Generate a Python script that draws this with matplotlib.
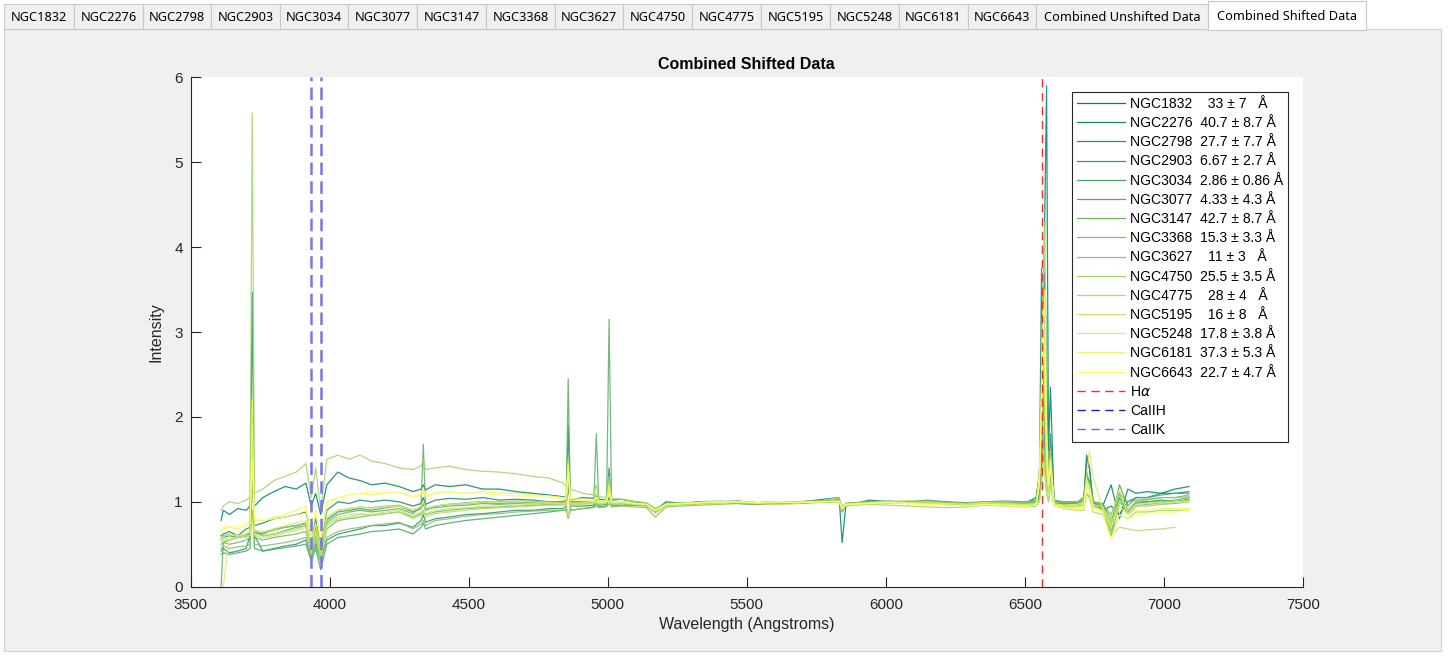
import numpy as np
import matplotlib
matplotlib.use("Agg")
import matplotlib.pyplot as plt
from matplotlib.patches import Rectangle
from matplotlib.lines import Line2D

plt.rcParams['font.family'] = ['Liberation Sans', 'DejaVu Sans']

nan = float('nan')

# ---------------- data ----------------
wavelength = [
    3610, 3618, 3640, 3670, 3700, 3714, 3722, 3730, 3760, 3800, 3840,
    3880, 3915, 3934, 3950, 3968, 3990, 4030, 4070, 4110, 4150,
    4200, 4250, 4300, 4329, 4337, 4345, 4380, 4430, 4490, 4550,
    4610, 4670, 4730, 4790, 4840, 4851, 4858, 4866, 4910, 4950,
    4959, 4968, 4996, 5005, 5014, 5050, 5100, 5140, 5171, 5210,
    5270, 5330, 5400, 5470, 5540, 5610, 5680, 5750, 5832, 5843,
    5856, 5940, 6010, 6080, 6150, 6220, 6290, 6360, 6430, 6500,
    6540, 6552, 6560, 6566, 6572, 6578, 6585, 6592, 6605, 6640,
    6690, 6712, 6722, 6732, 6745, 6780, 6810, 6840, 6870, 6900,
    6940, 6990, 7040, 7090,
]

ngc1832 = [
    0.78, 0.90, 0.85, 0.92, 0.90, 0.95, 1.25, 0.95, 1.05, 1.12, 1.18,
    1.15, 1.22, 0.95, 1.10, 0.85, 1.20, 1.35, 1.28, 1.25, 1.20,
    1.22, 1.18, 1.12, 1.15, 1.20, 1.14, 1.20, 1.18, 1.20, 1.15,
    1.15, 1.12, 1.10, 1.08, 1.06, 1.05, 1.15, 1.02, 1.05, 1.04,
    1.08, 1.03, 1.02, 1.15, 1.02, 1.03, 1.00, 0.98, 0.90, 1.00,
    0.98, 1.00, 1.00, 0.98, 0.97, 1.00, 0.99, 1.02, 1.05, 0.52,
    0.95, 1.02, 1.00, 0.98, 1.00, 0.97, 0.95, 1.00, 0.96, 0.98,
    1.05, 1.30, 2.00, 3.20, 4.50, 5.90, 1.60, 2.35, 1.00, 0.98,
    1.00, 1.05, 1.55, 1.40, 1.00, 0.95, 1.20, 0.80, 1.15, 1.10,
    1.12, 1.10, 1.15, 1.18,
]
ngc2276 = [
    0.60, 0.62, 0.65, 0.60, 0.68, 0.70, 1.60, 0.72, 0.75, 0.80, 0.82,
    0.85, 0.88, 0.60, 0.80, 0.50, 0.90, 1.00, 0.98, 1.02, 1.00,
    1.02, 1.00, 0.95, 0.98, 1.05, 0.97, 1.02, 1.04, 1.03, 1.05,
    1.02, 1.03, 1.02, 1.00, 1.00, 1.02, 1.50, 1.00, 1.00, 1.00,
    1.08, 1.00, 1.00, 1.20, 0.99, 1.00, 0.98, 0.97, 0.90, 0.98,
    0.97, 1.00, 1.00, 1.01, 0.98, 1.00, 0.98, 1.00, 1.02, 0.90,
    0.98, 1.00, 0.99, 1.00, 0.98, 1.00, 0.96, 1.00, 0.98, 0.99,
    1.00, 1.20, 3.75, 2.50, 1.60, 1.50, 1.20, 1.40, 1.00, 1.00,
    1.00, 1.00, 1.35, 1.20, 1.00, 0.90, 0.95, 0.85, 1.00, 1.05,
    1.05, 1.10, 1.10, 1.12,
]
ngc2798 = [
    0.42, 0.45, 0.40, 0.42, 0.45, 0.60, 3.47, 0.60, 0.42, 0.45, 0.48,
    0.50, 0.55, 0.35, 0.50, 0.30, 0.55, 0.62, 0.65, 0.68, 0.72,
    0.72, 0.75, 0.70, 0.78, 0.85, 0.76, 0.80, 0.82, 0.85, 0.86,
    0.88, 0.90, 0.90, 0.92, 0.92, 0.95, 1.90, 0.95, 0.95, 0.96,
    1.10, 0.96, 0.97, 1.40, 0.97, 0.98, 0.97, 0.96, 0.90, 0.98,
    0.98, 0.99, 1.00, 1.00, 0.98, 1.00, 0.99, 1.00, 1.02, 0.92,
    0.97, 1.00, 1.00, 0.99, 1.00, 0.98, 0.97, 1.00, 0.98, 0.97,
    0.98, 1.05, 1.40, 2.50, 3.70, 2.60, 1.30, 1.80, 1.00, 0.97,
    0.98, 1.00, 1.50, 1.40, 1.00, 0.95, 0.80, 1.10, 0.90, 1.00,
    1.00, 1.02, 1.00, 1.03,
]
ngc2903 = [
    0.55, 0.58, 0.60, 0.58, 0.60, 0.62, 1.50, 0.64, 0.62, 0.68, 0.70,
    0.72, 0.75, 0.50, 0.70, 0.42, 0.78, 0.88, 0.90, 0.92, 0.90,
    0.93, 0.95, 0.88, 0.92, 0.98, 0.90, 0.95, 0.97, 0.98, 1.00,
    0.98, 1.00, 0.99, 1.00, 0.98, 1.00, 1.35, 0.98, 0.99, 1.00,
    1.02, 0.99, 1.00, 1.05, 0.98, 0.99, 0.97, 0.96, 0.88, 0.97,
    0.97, 0.98, 1.00, 1.00, 0.98, 0.99, 1.00, 1.00, 1.01, 0.88,
    0.96, 0.98, 0.99, 1.00, 0.98, 0.97, 0.96, 0.98, 0.96, 0.97,
    0.98, 1.10, 1.60, 2.60, 1.80, 1.30, 1.10, 1.40, 0.98, 0.96,
    0.97, 1.00, 1.25, 1.20, 0.98, 0.92, 0.70, 1.05, 0.85, 0.95,
    0.97, 0.98, 1.00, 1.02,
]
ngc3034 = [
    0.38, 0.40, 0.38, 0.40, 0.42, 0.45, 1.80, 0.45, 0.42, 0.44, 0.46,
    0.48, 0.50, 0.30, 0.45, 0.20, 0.50, 0.58, 0.60, 0.62, 0.65,
    0.66, 0.68, 0.62, 0.70, 0.75, 0.68, 0.72, 0.75, 0.78, 0.80,
    0.82, 0.84, 0.86, 0.88, 0.90, 0.90, 1.40, 0.90, 0.92, 0.94,
    0.98, 0.94, 0.95, 1.05, 0.95, 0.96, 0.96, 0.95, 0.88, 0.96,
    0.97, 0.98, 0.99, 1.00, 0.99, 1.00, 1.00, 1.01, 1.02, 0.90,
    0.98, 1.00, 1.01, 1.00, 1.02, 1.00, 0.99, 1.00, 1.01, 1.00,
    1.02, 1.30, 2.20, 2.90, 2.10, 1.50, 1.20, 1.60, 1.02, 1.00,
    1.00, 1.02, 1.30, 1.25, 1.00, 0.98, 0.75, 1.20, 0.95, 1.05,
    1.05, 1.08, 1.10, 1.10,
]
ngc3077 = [
    0.00, 0.52, 0.55, 0.58, 0.60, 0.65, 2.00, 0.65, 0.60, 0.62, 0.66,
    0.70, 0.72, 0.45, 0.68, 0.40, 0.75, 0.85, 0.88, 0.90, 0.88,
    0.90, 0.92, 0.86, 0.95, 1.68, 0.92, 0.93, 0.95, 0.96, 0.98,
    0.97, 0.98, 0.99, 0.98, 0.97, 1.05, 2.45, 1.00, 0.98, 1.00,
    1.80, 0.99, 1.00, 3.15, 1.00, 0.98, 0.97, 0.98, 0.92, 0.97,
    0.98, 0.99, 1.00, 0.99, 0.98, 1.00, 0.99, 1.00, 1.00, 0.95,
    0.97, 0.99, 1.00, 0.98, 0.99, 0.98, 0.97, 0.99, 0.97, 0.98,
    0.99, 1.20, 2.10, 3.00, 2.20, 1.40, 1.10, 1.30, 0.99, 0.98,
    0.98, 1.00, 1.30, 1.25, 0.99, 0.90, 0.60, 1.00, 0.88, 0.98,
    1.00, 1.00, 1.02, 1.05,
]
ngc3147 = [
    0.50, 0.52, 0.50, 0.52, 0.55, 0.58, 1.40, 0.58, 0.55, 0.58, 0.60,
    0.62, 0.65, 0.42, 0.60, 0.35, 0.68, 0.78, 0.80, 0.82, 0.84,
    0.86, 0.88, 0.82, 0.86, 0.90, 0.85, 0.88, 0.90, 0.92, 0.93,
    0.94, 0.95, 0.96, 0.97, 0.97, 0.98, 1.20, 0.97, 0.98, 0.99,
    1.05, 0.99, 1.00, 1.15, 0.99, 0.99, 0.98, 0.97, 0.88, 0.97,
    0.98, 0.99, 1.00, 1.00, 0.99, 1.00, 1.00, 1.01, 1.00, 0.90,
    0.98, 0.99, 1.00, 1.00, 1.01, 0.99, 0.98, 1.00, 0.99, 1.00,
    1.00, 1.10, 1.30, 1.50, 1.60, 1.40, 1.20, 1.30, 1.00, 1.00,
    1.00, 1.05, 1.20, 1.15, 1.00, 0.97, 0.85, 1.10, 1.00, 1.02,
    1.03, 1.05, 1.05, 1.08,
]
ngc3368 = [
    0.45, 0.48, 0.45, 0.47, 0.48, 0.50, 0.90, 0.50, 0.48, 0.50, 0.52,
    0.55, 0.58, 0.35, 0.55, 0.28, 0.58, 0.65, 0.68, 0.70, 0.72,
    0.74, 0.76, 0.68, 0.74, 0.78, 0.72, 0.78, 0.80, 0.83, 0.85,
    0.86, 0.88, 0.89, 0.90, 0.90, 0.90, 0.80, 0.90, 0.92, 0.93,
    0.95, 0.93, 0.94, 0.98, 0.94, 0.95, 0.94, 0.93, 0.82, 0.94,
    0.95, 0.96, 0.97, 0.98, 0.97, 0.98, 0.98, 0.99, 1.00, 0.88,
    0.96, 0.98, 0.99, 0.98, 0.99, 0.97, 0.96, 0.98, 0.97, 0.96,
    0.95, 1.00, 1.30, 1.80, 1.40, 1.10, 1.00, 1.20, 0.95, 0.94,
    0.95, 0.97, 1.10, 1.05, 0.95, 0.92, 0.65, 0.95, 0.85, 0.95,
    0.95, 0.97, 0.98, 1.00,
]
ngc3627 = [
    0.58, 0.60, 0.62, 0.60, 0.62, 0.65, 1.70, 0.66, 0.64, 0.66, 0.70,
    0.72, 0.74, 0.48, 0.72, 0.45, 0.80, 0.90, 0.92, 0.94, 0.93,
    0.95, 0.96, 0.90, 0.94, 1.00, 0.92, 0.95, 0.97, 0.99, 1.00,
    1.00, 1.01, 1.00, 1.00, 0.99, 1.00, 1.30, 0.99, 1.00, 1.00,
    1.05, 1.00, 1.00, 1.10, 0.99, 1.00, 0.98, 0.97, 0.90, 0.98,
    0.99, 1.00, 1.01, 1.00, 0.99, 1.00, 1.00, 1.01, 1.00, 0.90,
    0.98, 1.00, 1.00, 1.01, 1.00, 0.99, 0.98, 1.00, 0.99, 0.99,
    1.00, 1.20, 1.80, 2.40, 1.90, 1.30, 1.20, 1.50, 1.00, 0.99,
    1.00, 1.02, 1.30, 1.20, 1.00, 0.95, 0.70, 1.10, 0.90, 1.00,
    1.02, 1.05, 1.05, 1.06,
]
ngc4750 = [
    0.90, 0.95, 1.00, 0.98, 1.02, 1.05, 5.58, 1.10, 1.15, 1.25, 1.30,
    1.35, 1.45, 1.05, 1.40, 0.90, 1.50, 1.55, 1.50, 1.55, 1.48,
    1.45, 1.40, 1.38, 1.42, 1.50, 1.38, 1.40, 1.42, 1.38, 1.36,
    1.35, 1.33, 1.30, 1.28, 1.22, 1.18, 1.30, 1.15, 1.10, 1.08,
    1.20, 1.06, 1.05, 1.30, 1.04, 1.03, 1.00, 0.99, 0.92, 0.98,
    0.97, 0.98, 1.00, 0.99, 0.98, 0.97, 0.98, 1.00, 1.05, 0.95,
    0.95, 0.97, 0.96, 0.95, 0.94, 0.93, 0.94, 0.96, 0.95, 0.94,
    0.95, 1.30, 2.50, 2.80, 2.00, 1.30, 1.10, 1.50, 0.95, 0.93,
    0.94, 0.95, 1.20, 1.15, 0.94, 0.90, 0.60, 0.85, 0.80, 0.88,
    0.88, 0.90, 0.90, 0.90,
]
ngc4775 = [
    0.50, 0.55, 0.55, 0.60, 0.58, 0.60, 1.60, 0.62, 0.60, 0.62, 0.65,
    0.68, 0.72, 0.40, 0.65, 0.30, 0.72, 0.80, 0.82, 0.85, 0.84,
    0.86, 0.88, 0.80, 0.84, 0.88, 0.82, 0.86, 0.88, 0.90, 0.92,
    0.93, 0.94, 0.95, 0.96, 0.96, 0.97, 1.40, 0.96, 0.97, 0.98,
    1.05, 0.97, 0.98, 1.20, 0.97, 0.98, 0.97, 0.96, 0.88, 0.96,
    0.97, 0.98, 0.99, 0.99, 0.98, 0.99, 0.99, 1.00, 1.00, 0.92,
    0.97, 0.98, 0.99, 0.98, 0.99, 0.97, 0.96, 0.98, 0.96, 0.95,
    0.96, 1.20, 2.00, 3.50, 4.30, 2.00, 1.20, 1.60, 0.96, 0.92,
    0.90, 0.90, 1.10, 1.05, 0.88, 0.85, 0.60, 0.70, 0.68, 0.66,
    0.67, 0.68, 0.70, nan,
]
ngc5195 = [
    0.55, 0.58, 0.55, 0.58, 0.60, 0.60, 0.80, 0.60, 0.58, 0.60, 0.63,
    0.66, 0.70, 0.45, 0.65, 0.38, 0.72, 0.82, 0.85, 0.86, 0.85,
    0.88, 0.90, 0.84, 0.88, 0.90, 0.86, 0.90, 0.92, 0.93, 0.95,
    0.95, 0.96, 0.97, 0.98, 0.97, 0.98, 0.85, 0.97, 0.98, 0.99,
    1.00, 0.98, 0.99, 1.02, 0.98, 0.99, 0.97, 0.96, 0.86, 0.96,
    0.97, 0.98, 0.99, 1.00, 0.98, 0.99, 1.00, 1.00, 1.01, 0.90,
    0.97, 0.99, 1.00, 0.99, 1.00, 0.98, 0.97, 0.99, 0.98, 0.97,
    0.97, 1.00, 1.20, 1.50, 1.30, 1.10, 1.00, 1.20, 0.97, 0.96,
    0.97, 0.98, 1.10, 1.08, 0.97, 0.94, 0.75, 1.00, 0.90, 0.97,
    0.98, 1.00, 1.00, 1.02,
]
ngc5248 = [
    nan, 0.00, 0.62, 0.60, 0.62, 0.65, 1.90, 0.66, 0.65, 0.68, 0.72,
    0.75, 0.78, 0.50, 0.74, 0.45, 0.82, 0.90, 0.92, 0.94, 0.92,
    0.94, 0.95, 0.90, 0.94, 1.00, 0.92, 0.95, 0.97, 0.98, 1.00,
    0.99, 1.00, 1.00, 0.99, 0.98, 1.00, 1.50, 0.98, 0.99, 1.00,
    1.05, 0.99, 1.00, 1.15, 0.99, 0.99, 0.98, 0.97, 0.90, 0.97,
    0.98, 0.99, 1.00, 1.00, 0.99, 1.00, 0.99, 1.00, 1.00, 0.92,
    0.97, 0.99, 1.00, 0.99, 0.98, 0.98, 0.97, 0.99, 0.97, 0.97,
    0.98, 1.20, 2.00, 3.00, 2.30, 1.40, 1.10, 1.50, 0.98, 0.96,
    0.97, 1.00, 1.30, 1.60, 1.30, 0.92, 0.80, 1.15, 0.85, 0.95,
    0.96, 0.98, 1.00, 1.00,
]
ngc6181 = [
    0.65, 0.68, 0.70, 0.68, 0.72, 0.75, 2.20, 0.78, 0.78, 0.82, 0.85,
    0.90, 0.95, 0.60, 0.90, 0.55, 1.00, 1.05, 1.08, 1.10, 1.08,
    1.10, 1.12, 1.05, 1.08, 1.12, 1.06, 1.10, 1.12, 1.10, 1.12,
    1.10, 1.10, 1.08, 1.07, 1.05, 1.05, 1.45, 1.04, 1.03, 1.02,
    1.10, 1.01, 1.01, 1.20, 1.00, 1.00, 0.98, 0.97, 0.90, 0.97,
    0.98, 0.99, 1.00, 1.00, 0.99, 1.00, 0.99, 1.00, 1.00, 0.92,
    0.96, 0.98, 0.99, 0.98, 0.97, 0.96, 0.95, 0.97, 0.95, 0.95,
    0.96, 1.30, 2.40, 3.30, 2.50, 1.50, 1.20, 1.50, 0.96, 0.94,
    0.94, 0.95, 1.25, 1.20, 0.94, 0.90, 0.70, 0.95, 0.85, 0.90,
    0.90, 0.92, 0.92, 0.92,
]
ngc6643 = [
    0.68, 0.72, 0.70, 0.72, 0.75, 0.78, 1.50, 0.80, 0.78, 0.80, 0.82,
    0.85, 0.90, 0.60, 0.88, 0.55, 0.95, 1.05, 1.08, 1.10, 1.12,
    1.10, 1.12, 1.06, 1.10, 1.15, 1.08, 1.10, 1.12, 1.10, 1.10,
    1.08, 1.07, 1.06, 1.05, 1.03, 1.03, 1.35, 1.02, 1.02, 1.01,
    1.05, 1.00, 1.00, 1.10, 1.00, 1.00, 0.98, 0.97, 0.90, 0.97,
    0.98, 0.99, 1.00, 1.00, 0.99, 1.00, 0.99, 1.00, 1.01, 0.93,
    0.97, 0.98, 0.99, 0.98, 0.97, 0.96, 0.95, 0.97, 0.96, 0.95,
    0.96, 1.20, 2.20, 3.00, 3.50, 1.80, 1.20, 1.40, 0.95, 0.93,
    0.92, 0.93, 1.20, 1.15, 0.92, 0.88, 0.55, 0.85, 0.80, 0.85,
    0.86, 0.88, 0.88, 0.90,
]

galaxies = ["NGC1832", "NGC2276", "NGC2798", "NGC2903", "NGC3034",
            "NGC3077", "NGC3147", "NGC3368", "NGC3627", "NGC4750",
            "NGC4775", "NGC5195", "NGC5248", "NGC6181", "NGC6643"]
spectra = [ngc1832, ngc2276, ngc2798, ngc2903, ngc3034,
           ngc3077, ngc3147, ngc3368, ngc3627, ngc4750,
           ngc4775, ngc5195, ngc5248, ngc6181, ngc6643]
legend_labels = [
    "NGC1832    33 ± 7   Å",
    "NGC2276  40.7 ± 8.7 Å",
    "NGC2798  27.7 ± 7.7 Å",
    "NGC2903  6.67 ± 2.7 Å",
    "NGC3034  2.86 ± 0.86 Å",
    "NGC3077  4.33 ± 4.3 Å",
    "NGC3147  42.7 ± 8.7 Å",
    "NGC3368  15.3 ± 3.3 Å",
    "NGC3627    11 ± 3   Å",
    "NGC4750  25.5 ± 3.5 Å",
    "NGC4775    28 ± 4   Å",
    "NGC5195    16 ± 8   Å",
    "NGC5248  17.8 ± 3.8 Å",
    "NGC6181  37.3 ± 5.3 Å",
    "NGC6643  22.7 ± 4.7 Å",
]
tab_labels = galaxies + ["Combined Unshifted Data", "Combined Shifted Data"]

H_ALPHA = 6562.8
CAII_H = 3968.5
CAII_K = 3933.7

x_ticks = [3500, 4000, 4500, 5000, 5500, 6000, 6500, 7000, 7500]
y_ticks = [0, 1, 2, 3, 4, 5, 6]

# ---------------- figure ----------------
W, H = 1448, 656
fig = plt.figure(figsize=(W / 100, H / 100), dpi=100, facecolor='white')


def fx(px):
    return px / W


def fy(py):
    return 1 - py / H


# panel (background)
fig.patches.append(Rectangle((fx(4), fy(651)), fx(1441) - fx(4), fy(29) - fy(651),
                             transform=fig.transFigure, facecolor='#f0f0f0',
                             edgecolor='#d0d0d0', linewidth=0.8, zorder=-10))

# tabs
tab_edges = [4, 74, 143, 211, 280, 348, 417, 486, 555, 623, 692, 761, 830,
             899, 968, 1036, 1208, 1366]
for i, lab in enumerate(tab_labels):
    x0, x1 = tab_edges[i], tab_edges[i + 1]
    selected = (i == len(tab_labels) - 1)
    top, bot = (1, 30) if selected else (4, 29)
    fig.patches.append(Rectangle((fx(x0), fy(bot)), fx(x1) - fx(x0), fy(top) - fy(bot),
                                 transform=fig.transFigure,
                                 facecolor='white' if selected else '#f0f0f0',
                                 edgecolor='#c8c8c8', linewidth=0.8,
                                 zorder=-8 if selected else -9))
    fig.text(fx((x0 + x1) / 2), fy(17 if selected else 17.5), lab, ha='center', va='center',
             fontsize=9.2, color='black', family=['Noto Sans', 'DejaVu Sans'], zorder=3)

ax = fig.add_axes([fx(190.5), fy(586.7), fx(1303) - fx(190.5), fy(77.3) - fy(586.7)])
ax.set_zorder(1)
ax.set_facecolor('white')

cmap = plt.get_cmap('summer')
n = len(spectra)
handles = []
for i, (name, vals) in enumerate(zip(galaxies, spectra)):
    c = cmap(i / (n - 1))
    ln, = ax.plot(wavelength, vals, color=c, lw=0.9, alpha=0.85)
    handles.append(ln)

h_ha = ax.axvline(H_ALPHA, color='#ff2a2a', lw=1.0, ls=(0, (6, 4)))
ax.axvline(CAII_H, color='#7676e6', lw=1.8, ls=(0, (5, 2.5)))
ax.axvline(CAII_K, color='#7676e6', lw=1.8, ls=(0, (5, 2.5)))
h_h = Line2D([], [], color='#1c1cc8', lw=1.0, ls=(0, (6, 4)))
h_k = Line2D([], [], color='#6a6ae0', lw=1.0, ls=(0, (6, 4)))

ax.set_xlim(3500, 7500)
ax.set_ylim(0, 6)
ax.set_xticks(x_ticks)
ax.set_yticks(y_ticks)
for s in ['top', 'right']:
    ax.spines[s].set_visible(False)
for s in ['left', 'bottom']:
    ax.spines[s].set_color('#262626')
    ax.spines[s].set_linewidth(0.8)
ax.tick_params(direction='in', length=7, width=0.8, color='#262626',
               labelcolor='#262626', labelsize=11)
ax.tick_params(axis='x', pad=8)
ax.tick_params(axis='y', pad=5.5)
ax.set_xlabel('Wavelength (Angstroms)', fontsize=11.5, color='#262626', labelpad=4)
ax.set_ylabel('Intensity', fontsize=11.5, color='#262626', labelpad=8)
ax.set_title('Combined Shifted Data', fontsize=11.5, fontweight='bold', color='black', pad=6)

leg = ax.legend(handles + [h_ha, h_h, h_k], legend_labels + ['H$\\alpha$', 'CaIIH', 'CaIIK'],
                loc='upper left', bbox_to_anchor=((1072 - 190.5) / (1303 - 190.5),
                                                  1 - (92 - 77.3) / (586.7 - 77.3)),
                borderaxespad=0, fontsize=10.1, labelspacing=0.37, handlelength=3.4,
                handletextpad=0.4, borderpad=0.35, fancybox=False, framealpha=1,
                edgecolor='#262626')
leg.get_frame().set_linewidth(0.8)
for h in leg.get_lines()[:n]:
    h.set_alpha(1.0)

fig.savefig('out.png', dpi=100, facecolor=fig.get_facecolor())
